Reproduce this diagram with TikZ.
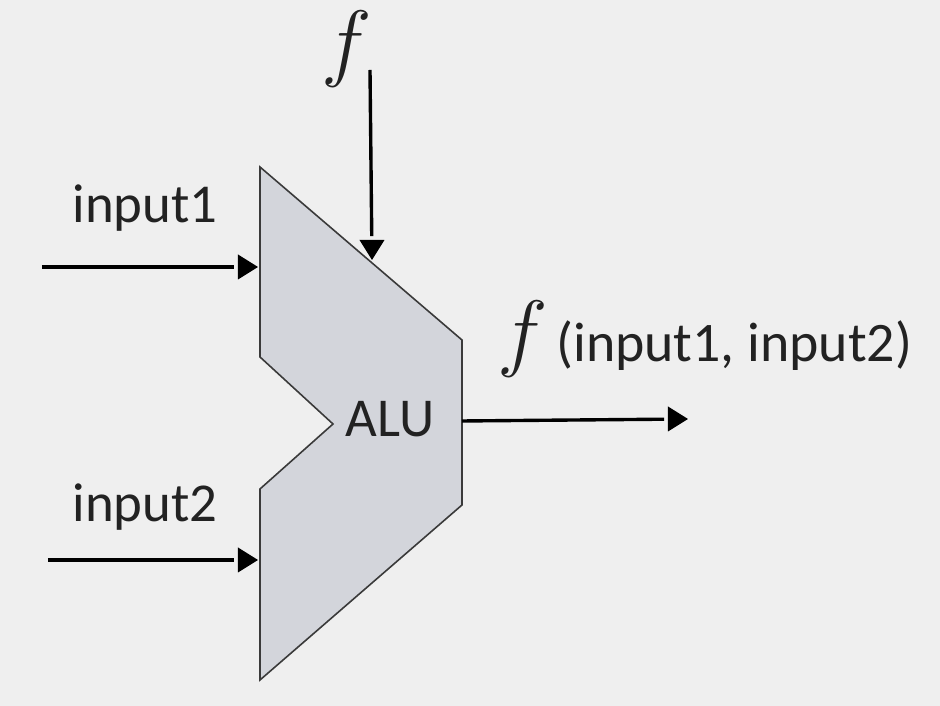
\RequirePackage{fix-cm}
\documentclass[tikz,border=0pt]{standalone}
\usepackage{fontspec}
\setmainfont{Carlito}
\definecolor{bgcol}{HTML}{EFEFEF}
\definecolor{alucol}{HTML}{D3D5DB}
\definecolor{edgecol}{HTML}{3A3A3A}
\definecolor{txtcol}{HTML}{222222}
\newcommand{\lblfont}{\fontsize{27.5}{28}\selectfont}
\newcommand{\argfont}{\fontsize{28}{28}\selectfont}
\newcommand{\funfont}{\fontsize{43}{43}\selectfont}
\begin{document}
\begin{tikzpicture}[scale=0.17638]
\tikzstyle{every node}+=[inner sep=0pt, text=txtcol]
\tikzstyle{wire}=[black, line width=1.7pt, shorten >=12pt]
\fill [bgcol] (0,0) rectangle (94,-70.6);
\useasboundingbox (0,0) rectangle (94,-70.6);
% ALU body
\coordinate (alutl) at (26.0,-16.7);
\coordinate (alutr) at (46.2,-34.0);
\coordinate (alubr) at (46.2,-50.5);
\coordinate (alubl) at (26.0,-68.0);
\coordinate (alulo) at (26.0,-48.9);
\coordinate (alutip) at (33.3,-42.4);
\coordinate (aluup) at (26.0,-35.7);
\draw [edgecol, fill=alucol, line width=0.8pt] (alutl) -- (alutr) -- (alubr) -- (alubl) -- (alulo) -- (alutip) -- (aluup) -- cycle;
\draw (39.0,-43.7) node [anchor=base] (alu) {\lblfont ALU};
% inputs
\coordinate (in1s) at (4.2,-26.7);
\coordinate (in1e) at (25.8,-26.7);
\draw [wire] (in1s) -- (in1e);
\fill [black] (in1e) -- ++(-2.0,1.25) -- ++(0,-2.5) -- cycle;
\draw (14.5,-22.3) node [anchor=base] (in1) {\lblfont input1};
\coordinate (in2s) at (4.8,-56.0);
\coordinate (in2e) at (25.8,-56.0);
\draw [wire] (in2s) -- (in2e);
\fill [black] (in2e) -- ++(-2.0,1.25) -- ++(0,-2.5) -- cycle;
\draw (14.5,-52.2) node [anchor=base] (in2) {\lblfont input2};
% function select
\draw (34.7,-7.1) node [anchor=base] (fsel) {\funfont $f$};
\coordinate (fs) at (37.0,-7.0);
\coordinate (fe) at (37.2,-26.0);
\draw [wire] (fs) -- (fe);
\fill [black] (fe) -- ++(-1.25,2.0) -- ++(2.5,0) -- cycle;
% output
\coordinate (outs) at (46.2,-42.1);
\coordinate (oute) at (68.8,-41.9);
\draw [wire] (outs) -- (oute);
\fill [black] (oute) -- ++(-2.0,1.25) -- ++(0,-2.5) -- cycle;
\draw (52.3,-36.1) node [anchor=base] (fout) {\funfont $f$};
\draw (55.6,-36.2) node [anchor=base west] (args) {\argfont (input1, input2)};
\end{tikzpicture}
\end{document}
